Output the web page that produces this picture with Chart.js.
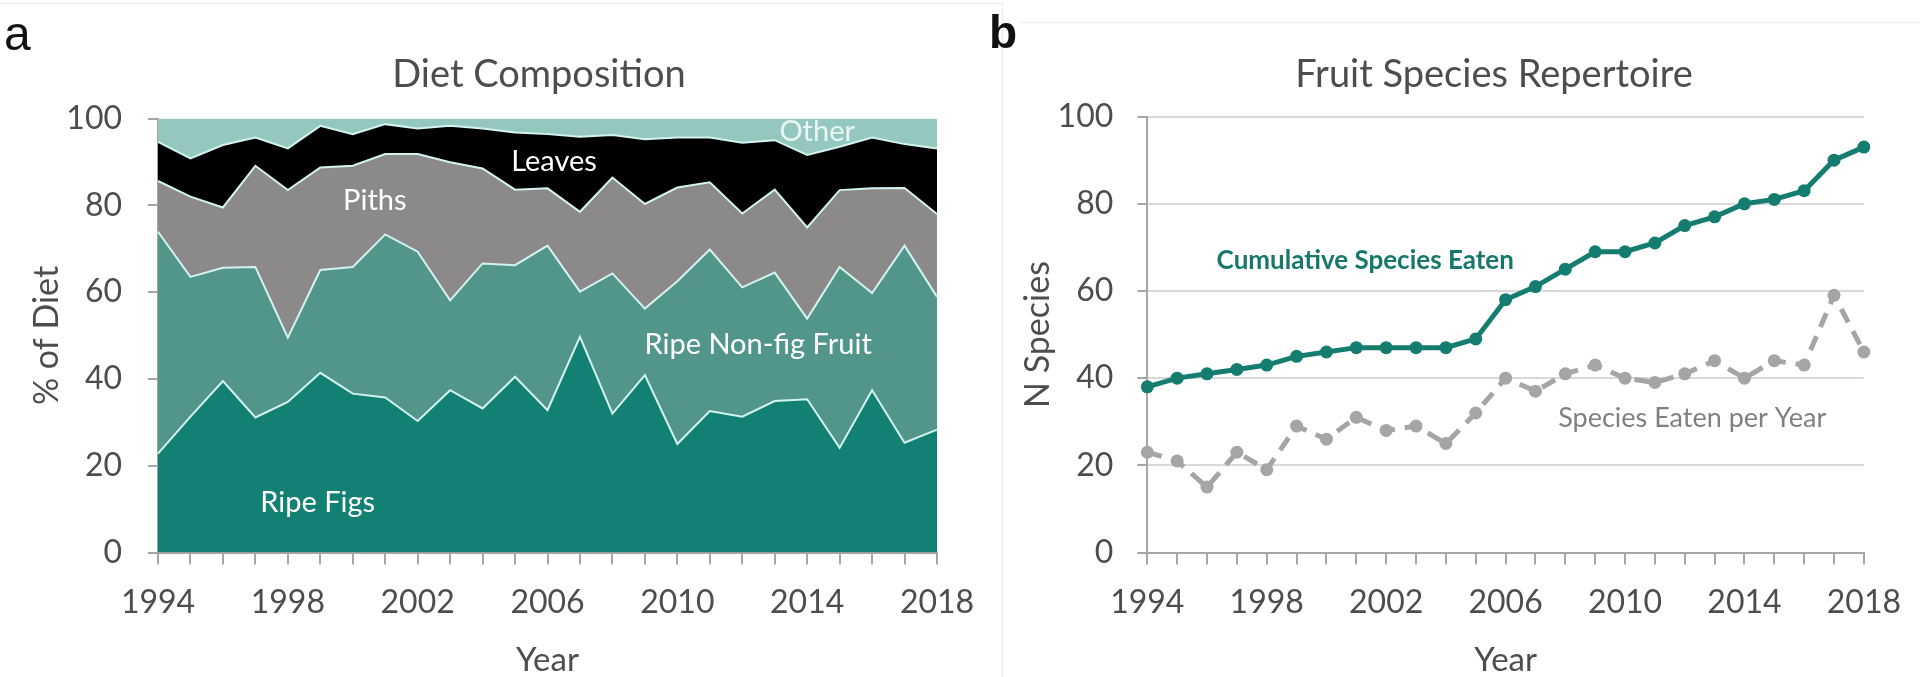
<!DOCTYPE html>
<html>
<head>
<meta charset="utf-8">
<script src="https://cdn.jsdelivr.net/npm/chart.js@4.4.0/dist/chart.umd.min.js"></script>
<style>
  html, body { margin: 0; padding: 0; background: #fff; }
  body { width: 1920px; height: 677px; position: relative; overflow: hidden; }
  canvas { position: absolute; top: 0; }
  #dietChart { left: 0; }
  #speciesChart { left: 960px; }
  .frame { position: absolute; border-color: #ececec; border-style: solid; border-width: 0; }
</style>
</head>
<body>
<div class="frame" style="left:0; top:3px; width:1002px; height:680px; border-top-width:1px; border-right-width:1px;"></div>
<div class="frame" style="left:1020px; top:22px; width:900px; height:1px; border-top-width:1px;"></div>
<canvas id="dietChart" width="1000" height="677"></canvas>
<canvas id="speciesChart" width="960" height="677"></canvas>
<script>
// data
const years = ['1994', '1995', '1996', '1997', '1998', '1999', '2000', '2001', '2002', '2003', '2004', '2005',
  '2006', '2007', '2008', '2009', '2010', '2011', '2012', '2013', '2014', '2015', '2016', '2017', '2018'];
const xTickLabels = ['1994', '1998', '2002', '2006', '2010', '2014', '2018'];
const yTicks = [0, 20, 40, 60, 80, 100];

// panel a - % of diet per food type
const ripeFigs   = [22.8, 31.3, 39.5, 31.1, 34.7, 41.4, 36.6, 35.7, 30.3, 37.4, 33.2, 40.5, 32.8, 49.7, 32.0, 40.9, 25.0, 32.6, 31.3, 34.9, 35.3, 24.1, 37.4, 25.3, 28.3];
const ripeNonFig = [51.1, 32.2, 26.1, 34.7, 14.8, 23.7, 29.2, 37.6, 39.0, 20.7, 33.4, 25.7, 37.9, 10.4, 32.3, 15.3, 37.5, 37.2, 29.8, 29.6, 18.6, 41.7, 22.4, 45.4, 30.6];
const piths      = [11.7, 18.5, 13.9, 23.3, 34.0, 23.6, 23.3, 18.5, 22.5, 31.8, 21.9, 17.4, 13.2, 18.4, 22.1, 24.1, 21.6, 15.5, 17.0, 19.1, 21.0, 17.7, 24.1, 13.3, 19.1];
const leaves     = [9.0, 8.8, 14.4, 6.5, 9.6, 9.6, 7.3, 6.9, 5.9, 8.4, 9.2, 13.2, 12.5, 17.3, 9.8, 14.9, 11.5, 10.3, 16.3, 11.4, 16.7, 10.0, 11.7, 10.1, 15.1];
const other      = [5.4, 9.2, 6.1, 4.4, 6.9, 1.7, 3.6, 1.3, 2.3, 1.7, 2.3, 3.2, 3.6, 4.2, 3.8, 4.8, 4.4, 4.4, 5.6, 5.0, 8.4, 6.5, 4.4, 5.9, 6.9];

// panel b - fruit species
const cumulativeSpecies = [38, 40, 41, 42, 43, 45, 46, 47, 47, 47, 47, 49, 58, 61, 65, 69, 69, 71, 75, 77, 80, 81, 83, 90, 93];
const speciesPerYear    = [23, 21, 15, 23, 19, 29, 26, 31, 28, 29, 25, 32, 40, 37, 41, 43, 40, 39, 41, 44, 40, 44, 43, 59, 46];

Chart.defaults.font.family = 'Lato';
Chart.defaults.color = '#4d4d4d';
Chart.defaults.animation = false;

const axisGray = '#a6a6a6';
const textGray = '#4d4d4d';
const lineEdge = '#d3f3ef';

// text drawn on top of the chart (titles, panel letters, in-plot labels)
// items are kept out of the options so chart.js doesn't proxy them
function textPlugin(items) {
  return {
    id: 'panelText',
    afterDraw(chart) {
      const { ctx, scales: { x, y } } = chart;
      ctx.save();
      items.forEach(it => {
        ctx.font = it.font;
        ctx.fillStyle = it.color;
        ctx.textAlign = it.align || 'center';
        ctx.textBaseline = it.baseline || 'middle';
        let px, py;
        if (it.at) {
          px = x.getPixelForValue(it.at[0]);
          py = y.getPixelForValue(it.at[1]);
        } else {
          px = it.pos[0];
          py = it.pos[1];
        }
        ctx.fillText(it.text, px, py);
      });
      ctx.restore();
    }
  };
}

function xScale() {
  return {
    offset: false,
    grid: { display: true, drawOnChartArea: false, drawTicks: true, tickLength: 12, color: axisGray, lineWidth: 2, offset: false },
    border: { display: true, color: axisGray, width: 2 },
    ticks: {
      autoSkip: false, maxRotation: 0, padding: 19, color: textGray,
      font: { size: 32 },
      callback: (v, i) => xTickLabels.includes(years[i]) ? years[i] : ''
    },
    title: { display: true, text: 'Year', color: textGray, font: { size: 33, lineHeight: 1 }, padding: { top: 0, bottom: 0 } },
    afterFit: s => { s.height = 124.5; }
  };
}

function yScale(title, width, tickPad, titlePad, withGrid) {
  return {
    stacked: !withGrid, min: 0, max: 100,
    grid: {
      display: true, drawOnChartArea: withGrid, drawTicks: true, tickLength: 10,
      color: withGrid ? '#d9d9d9' : axisGray, tickColor: axisGray, lineWidth: 2
    },
    border: { display: true, color: axisGray, width: 2 },
    ticks: { stepSize: 20, padding: tickPad, font: { size: 32 }, color: textGray },
    title: { display: true, text: title, color: textGray, font: { size: 34, lineHeight: 1 }, padding: { top: titlePad, bottom: 0 } },
    afterFit: s => { s.width = width; },
    afterBuildTicks: s => { s.ticks = yTicks.map(v => ({ value: v })); }
  };
}

function area(label, data, color, fill, edge) {
  return {
    label, data, fill,
    backgroundColor: color,
    borderColor: lineEdge,
    borderWidth: edge,
    pointRadius: 0,
    tension: 0
  };
}

new Chart(document.getElementById('dietChart'), {
  type: 'line',
  data: {
    labels: years,
    datasets: [
      area('Ripe Figs', ripeFigs, '#128174', 'origin', 2),
      area('Ripe Non-fig Fruit', ripeNonFig, '#52968b', '-1', 2),
      area('Piths', piths, '#8b898a', '-1', 2),
      area('Leaves', leaves, '#000000', '-1', 2),
      area('Other', other, '#94c8be', '-1', 0)
    ]
  },
  options: {
    responsive: false,
    layout: { padding: { top: 118.5, right: 63, left: 0, bottom: 0 } },
    plugins: { legend: { display: false }, tooltip: { enabled: false } },
    scales: {
      x: xScale(),
      y: yScale('% of Diet', 158, 26, 30, false)
    }
  },
  plugins: [textPlugin([
    { text: 'a', pos: [4, 50], font: '48px "Liberation Sans"', color: '#111111', align: 'left', baseline: 'alphabetic' },
    { text: 'Diet Composition', pos: [539, 75], font: '38px Lato', color: textGray },
    { text: 'Ripe Figs', at: [4.92, 11.6], font: '29px Lato', color: '#ffffff' },
    { text: 'Ripe Non-fig Fruit', at: [18.49, 48.0], font: '29px Lato', color: '#ffffff' },
    { text: 'Piths', at: [6.68, 81.0], font: '29px Lato', color: '#ffffff' },
    { text: 'Leaves', at: [12.2, 90.0], font: '29px Lato', color: '#ffffff' },
    { text: 'Other', at: [20.31, 96.9], font: '29px Lato', color: '#eaf6f3' }
  ])]
});

new Chart(document.getElementById('speciesChart'), {
  type: 'line',
  data: {
    labels: years,
    datasets: [
      {
        label: 'Cumulative Species Eaten',
        data: cumulativeSpecies,
        borderColor: '#147d70', backgroundColor: '#147d70',
        borderWidth: 5, pointRadius: 6.5, pointBorderWidth: 0, tension: 0
      },
      {
        label: 'Species Eaten per Year',
        data: speciesPerYear,
        borderColor: '#a5a5a5', backgroundColor: '#a5a5a5',
        borderWidth: 5, borderDash: [15, 10], pointRadius: 6.5, pointBorderWidth: 0, tension: 0
      }
    ]
  },
  options: {
    responsive: false,
    layout: { padding: { top: 116.6, right: 41.5, left: 0, bottom: 0 } },
    plugins: { legend: { display: false }, tooltip: { enabled: false } },
    scales: {
      x: xScale(),
      y: yScale('N Species', 187.3, 24, 61, true)
    }
  },
  plugins: [textPlugin([
    { text: 'b', pos: [29, 48], font: 'bold 46px "Liberation Sans"', color: '#111111', align: 'left', baseline: 'alphabetic' },
    { text: 'Fruit Species Repertoire', pos: [534, 75], font: '38px Lato', color: textGray },
    { text: 'Cumulative Species Eaten', at: [7.3, 66.9], font: 'bold 26px Lato', color: '#17776b' },
    { text: 'Species Eaten per Year', at: [18.25, 30.9], font: '27px Lato', color: '#808080' }
  ])]
});
</script>
</body>
</html>
